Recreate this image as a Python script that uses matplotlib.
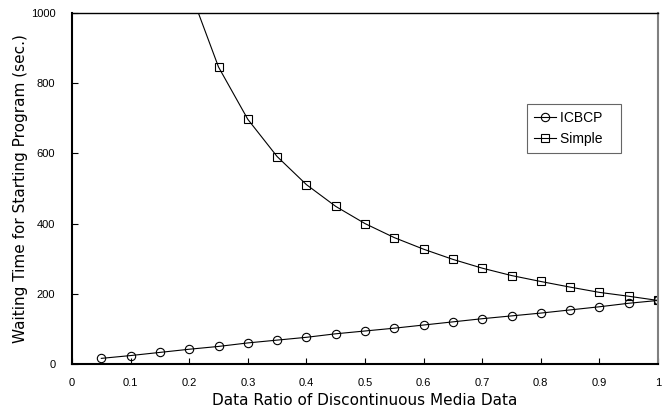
import matplotlib
matplotlib.use("Agg")
import matplotlib.pyplot as plt

##Waiting time vs data ratio##
ratio = [0.05, 0.1, 0.15, 0.2, 0.25, 0.3, 0.35, 0.4, 0.45, 0.5,
         0.55, 0.6, 0.65, 0.7, 0.75, 0.8, 0.85, 0.9, 0.95, 1.0]
icbcp = [16, 24, 33, 42, 50, 60, 68, 76, 86, 94,
         102, 111, 120, 129, 137, 145, 154, 163, 173, 181]

simple_ratio = [0.2, 0.25, 0.3, 0.35, 0.4, 0.45, 0.5, 0.55, 0.6, 0.65,
                0.7, 0.75, 0.8, 0.85, 0.9, 0.95, 1.0]
simple = [1070, 846, 697, 591, 511, 449, 400, 360, 327, 298,
          273, 252, 235, 219, 204, 193, 181]

xticks = [0, 0.1, 0.2, 0.3, 0.4, 0.5, 0.6, 0.7, 0.8, 0.9, 1]
xlabels = ["0", "0.1", "0.2", "0.3", "0.4", "0.5", "0.6", "0.7", "0.8", "0.9", "1"]
yticks = [0, 200, 400, 600, 800, 1000]

plt.rcParams['font.family'] = ['Liberation Sans Narrow', 'Liberation Sans', 'DejaVu Sans']

fig = plt.figure(figsize=(6.67, 4.11), dpi=100)
ax = fig.add_axes([0.108, 0.1144, 0.8785, 0.854])

ax.plot(ratio, icbcp, color='black', lw=0.8, marker='o', ms=6,
        mfc='none', mec='black', mew=0.8, label='ICBCP')
ax.plot(simple_ratio, simple, color='black', lw=0.8, marker='s', ms=6,
        mfc='none', mec='black', mew=0.8, label='Simple')

ax.set_xlim(0, 1)
ax.set_ylim(0, 1000)
ax.set_xticks(xticks)
ax.set_xticklabels(xlabels)
ax.set_yticks(yticks)
ax.tick_params(direction='in', length=4, width=0.8, labelsize=8)
ax.tick_params(axis='x', pad=10)
ax.tick_params(axis='y', pad=12)

for side in ['left', 'bottom']:
    ax.spines[side].set_linewidth(1.5)
ax.spines['top'].set_linewidth(1.0)
ax.spines['right'].set_color('#808080')
ax.spines['right'].set_linewidth(1.5)

ax.set_xlabel('Data Ratio of Discontinuous Media Data', fontsize=11,
              family=['DejaVu Sans'], labelpad=4)
ax.set_ylabel('Waiting Time for Starting Program (sec.)', fontsize=11,
              family=['DejaVu Sans'], labelpad=2)

leg = ax.legend(loc='upper left', bbox_to_anchor=(0.776, 0.741), fontsize=10,
                frameon=True, fancybox=False, handlelength=1.6,
                handletextpad=0.3, borderpad=0.5, labelspacing=0.5,
                borderaxespad=0)
leg.get_frame().set_edgecolor('#404040')
leg.get_frame().set_linewidth(0.8)
# stretch the box to the width of the original
leg._legend_box.align = 'left'
for t in leg.get_texts():
    t.set_text(t.get_text() + '   ')

fig.savefig('out.png', dpi=100)
